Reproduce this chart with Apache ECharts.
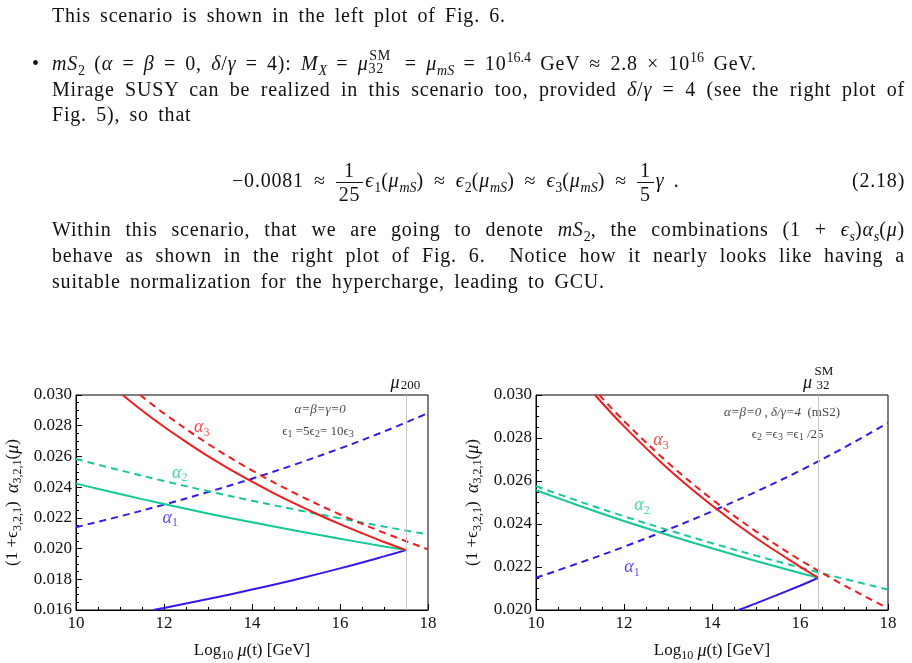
<!DOCTYPE html>
<html>
<head>
<meta charset="utf-8">
<script src="https://cdn.jsdelivr.net/npm/echarts@6/dist/echarts.min.js"></script>
<style>
body{margin:0;background:#fff;}
#page{position:relative;width:912px;height:663px;overflow:hidden;font-family:"Liberation Serif",serif;font-size:20px;color:#111;}
#main{position:absolute;left:0;top:0;width:912px;height:663px;}
.ln{position:absolute;left:52px;white-space:nowrap;line-height:26px;letter-spacing:.8px;word-spacing:3.5px;z-index:2;}
.j{width:853px;white-space:normal;text-align:justify;text-align-last:justify;}
sub,sup{font-size:.7em;line-height:0;letter-spacing:0;}
.r{margin:0 .5em;}
.ss{display:inline-block;position:relative;width:1.35em;height:1em;}
.ss .u{position:absolute;left:.05em;top:-.5em;font-size:.7em;}
.ss .d{position:absolute;left:0;top:.45em;font-size:.7em;}
.fr{display:inline-block;vertical-align:middle;text-align:center;line-height:1.15;margin-right:2px;}
.fr span{display:block;padding:0 3px;}
.fr span:first-child{border-bottom:1px solid #111;}
</style>
</head>
<body>
<div id="page">
<div id="main"></div>
<div class="ln" style="top:2px">This scenario is shown in the left plot of Fig. 6.</div>
<div class="ln" style="top:50px"><span style="position:absolute;left:-20px">•</span><i>mS</i><sub>2</sub> (<i>α</i> = <i>β</i> = 0, <i>δ</i>/<i>γ</i> = 4): <i>M<sub>X</sub></i> = <i>μ</i><span class="ss"><span class="u">SM</span><span class="d">32</span></span> = <i>μ<sub>mS</sub></i> = 10<sup>16.4</sup> GeV ≈ 2.8 × 10<sup>16</sup> GeV.</div>
<div class="ln j" style="top:76px">Mirage SUSY can be realized in this scenario too, provided <i>δ</i>/<i>γ</i> = 4 (see the right plot of</div>
<div class="ln" style="top:101px">Fig. 5), so that</div>
<div class="ln" style="left:232px;top:150px;line-height:60px">−0.0081<span class="r">≈</span><span class="fr"><span>1</span><span>25</span></span><i>ϵ</i><sub>1</sub>(<i>μ<sub>mS</sub></i>)<span class="r">≈</span><i>ϵ</i><sub>2</sub>(<i>μ<sub>mS</sub></i>)<span class="r">≈</span><i>ϵ</i><sub>3</sub>(<i>μ<sub>mS</sub></i>)<span class="r">≈</span><span class="fr"><span>1</span><span>5</span></span><i>γ</i>&nbsp;.</div>
<div class="ln" style="left:852px;top:167px">(2.18)</div>
<div class="ln j" style="top:216px">Within this scenario, that we are going to denote <i>mS</i><sub>2</sub>, the combinations (1 + <i>ϵ<sub>s</sub></i>)<i>α<sub>s</sub></i>(<i>μ</i>)</div>
<div class="ln j" style="top:242px">behave as shown in the right plot of Fig. 6.&nbsp; Notice how it nearly looks like having a</div>
<div class="ln" style="top:268px">suitable normalization for the hypercharge, leading to GCU.</div>
</div>
<script>
(function () {
    "use strict";
    var serif = '"Liberation Serif", "DejaVu Serif", serif';
    var RED = '#ee1c1c', GREEN = '#14c896', BLUE = '#3418e6';

    // left plot: alpha = beta = gamma = 0
    var L_red = [[11.06, 0.0300], [11.5, 0.02899], [12, 0.02793], [12.5, 0.02695], [13, 0.02602], [13.5, 0.02516], [14, 0.02436], [14.5, 0.0236], [15, 0.02289], [15.5, 0.02222], [16, 0.02159], [16.5, 0.021], [17, 0.02043], [17.5, 0.0199]];
    var L_redD = [[11.46, 0.0300], [12, 0.0288], [13, 0.02682], [14, 0.02509], [15, 0.02357], [16, 0.02222], [17, 0.02103], [18, 0.01995]];
    var L_green = [[10, 0.02423], [11, 0.02355], [12, 0.0229], [13, 0.02229], [14, 0.02171], [15, 0.02116], [16, 0.02064], [17, 0.02014], [17.5, 0.0199]];
    var L_greenD = [[10, 0.02583], [11, 0.0251], [12, 0.0244], [13, 0.02374], [14, 0.02312], [15, 0.02253], [16, 0.02197], [17, 0.02143], [18, 0.02092]];
    var L_blue = [[11.76, 0.0160], [12, 0.01613], [13, 0.01671], [14, 0.01733], [15, 0.01799], [16, 0.01871], [17, 0.01949], [17.5, 0.0199]];
    var L_blueD = [[10, 0.02139], [11, 0.0221], [12, 0.02286], [13, 0.02368], [14, 0.02455], [15, 0.0255], [16, 0.02652], [17, 0.02762], [18, 0.02882]];
    var L_mu = 17.5;

    // right plot: mS2
    var R_red = [[11.34, 0.0300], [12, 0.02854], [13, 0.02657], [14, 0.02486], [15, 0.02335], [16, 0.02202], [16.42, 0.0215]];
    var R_redD = [[11.44, 0.0300], [12, 0.02879], [13, 0.02685], [14, 0.02515], [15, 0.02366], [16, 0.02233], [17, 0.02115], [18, 0.02008]];
    var R_green = [[10, 0.02557], [11, 0.02484], [12, 0.02414], [13, 0.02349], [14, 0.02287], [15, 0.02228], [16, 0.02172], [16.42, 0.0215]];
    var R_greenD = [[10, 0.02576], [11, 0.02504], [12, 0.02436], [13, 0.02372], [14, 0.02311], [15, 0.02253], [16, 0.02198], [17, 0.02145], [18, 0.02095]];
    var R_blue = [[14.6, 0.0200], [15, 0.02031], [16, 0.02113], [16.42, 0.0215]];
    var R_blueD = [[10, 0.0215], [11, 0.0222], [12, 0.02294], [13, 0.02374], [14, 0.02459], [15, 0.0255], [16, 0.02648], [17, 0.02755], [18, 0.0287]];
    var R_mu = 16.42;

    // label positions in data coords
    var L_notes = [
        {value: [12.86, 0.02788], text: '{i|α}{s|3}', color: RED},
        {value: [12.36, 0.02493], text: '{i|α}{s|2}', color: GREEN},
        {value: [12.14, 0.02197], text: '{i|α}{s|1}', color: BLUE},
        {value: [15.55, 0.02904], text: '{si|α=β=γ=0}', color: '#111'},
        {value: [15.5, 0.02762], text: '{sn|ϵ}{ss|1}{sn| =5ϵ}{ss|2}{sn|= 10ϵ}{ss|3}', color: '#111'}
    ];
    var R_notes = [
        {value: [12.84, 0.02789], text: '{i|α}{s|3}', color: RED},
        {value: [12.41, 0.02486], text: '{i|α}{s|2}', color: GREEN},
        {value: [12.18, 0.02197], text: '{i|α}{s|1}', color: BLUE},
        {value: [15.59, 0.02917], text: '{si|α=β=0 , δ/γ=4}{sn|  (mS2)}', color: '#111'},
        {value: [15.72, 0.02817], text: '{sn|ϵ}{ss|2}{sn| =ϵ}{ss|3}{sn| =ϵ}{ss|1}{sn| /25}', color: '#111'}
    ];

    function rich(color) {
        return {
            n: {fontFamily: serif, fontSize: 17, color: color, lineHeight: 22},
            i: {fontFamily: serif, fontSize: 18, fontStyle: 'italic', color: color, lineHeight: 22},
            s: {fontFamily: serif, fontSize: 12, color: color, lineHeight: 11, verticalAlign: 'bottom'},
            si: {fontFamily: serif, fontSize: 13, fontStyle: 'italic', color: color, lineHeight: 16},
            sn: {fontFamily: serif, fontSize: 13, color: color, lineHeight: 16},
            ss: {fontFamily: serif, fontSize: 10, color: color, lineHeight: 9, verticalAlign: 'bottom'},
            sp: {width: 11, fontSize: 11, lineHeight: 5},
            up: {width: 20, fontFamily: serif, fontSize: 13, color: color, lineHeight: 5, align: 'left'},
            mu: {width: 9, fontFamily: serif, fontSize: 18, fontStyle: 'italic', color: color, lineHeight: 18},
            dn: {width: 22, fontFamily: serif, fontSize: 13, color: color, lineHeight: 12, verticalAlign: 'bottom', align: 'left'}
        };
    }

    var myChart = echarts.init(document.getElementById('main'));

    var grids = [
        {left: 76, top: 395, width: 352, height: 218, show: true, borderColor: '#000', borderWidth: 1, backgroundColor: 'transparent'},
        {left: 536, top: 395, width: 352, height: 218, show: true, borderColor: '#000', borderWidth: 1, backgroundColor: 'transparent'}
    ];

    function bottomAxis(gi) {
        return {
            type: 'value', gridIndex: gi, min: 10, max: 18, interval: 2,
            axisLine: {show: true, lineStyle: {color: '#000', width: 1}},
            axisTick: {show: true, inside: true, length: 6, lineStyle: {color: '#000'}},
            minorTick: {show: true, splitNumber: 4, length: 3, lineStyle: {color: '#000'}},
            splitLine: {show: false},
            axisLabel: {fontFamily: serif, fontSize: 17, color: '#111', margin: 5},
            name: '{n|Log}{s|10}{n| }{i|μ}{n|(t) [GeV]}',
            nameLocation: 'middle', nameGap: 30,
            nameTextStyle: {rich: rich('#111')}
        };
    }
    function topAxis(gi, mu, fmt) {
        return {
            type: 'value', gridIndex: gi, min: 10, max: 18, position: 'top',
            axisLine: {show: false},
            axisTick: {show: true, inside: true, length: 6, customValues: [mu], lineStyle: {color: '#000'}},
            splitLine: {show: false},
            axisLabel: {show: true, customValues: [mu], margin: 3, formatter: function () { return fmt; }, rich: rich('#111')}
        };
    }
    function leftAxis(gi, min) {
        return {
            type: 'value', gridIndex: gi, min: min, max: 0.030, interval: 0.002,
            axisLine: {show: true, lineStyle: {color: '#000', width: 1}},
            axisTick: {show: true, inside: true, length: 6, lineStyle: {color: '#000'}},
            minorTick: {show: true, splitNumber: 4, length: 3, lineStyle: {color: '#000'}},
            splitLine: {show: false},
            axisLabel: {fontFamily: serif, fontSize: 17, color: '#111', margin: 4,
                formatter: function (v) { return v.toFixed(3); }},
            name: '{n|(1 +ϵ}{s|3,2,1}{n|)  }{i|α}{s|3,2,1}{n|(}{i|μ}{n|)}',
            nameLocation: 'middle', nameGap: 52, nameRotate: 90,
            nameTextStyle: {rich: rich('#111')}
        };
    }

    function curve(data, color, dashed, gi) {
        return {
            type: 'line', xAxisIndex: gi * 2, yAxisIndex: gi, data: data,
            showSymbol: false, smooth: 0.35, clip: true, silent: true,
            lineStyle: {color: color, width: 2, type: dashed ? [7, 5] : 'solid'}
        };
    }
    function vline(mu, gi) {
        return {
            type: 'line', xAxisIndex: gi * 2, yAxisIndex: gi, data: [], silent: true,
            markLine: {symbol: 'none', silent: true, label: {show: false},
                lineStyle: {color: '#c8c8c8', width: 1, type: 'solid'},
                data: [{xAxis: mu}]}
        };
    }
    function notes(list, gi) {
        return {
            type: 'scatter', xAxisIndex: gi * 2, yAxisIndex: gi, symbolSize: 0, silent: true,
            data: list.map(function (d) {
                return {value: d.value, label: {show: true, position: 'inside', formatter: d.text, rich: rich(d.color)}};
            })
        };
    }

    myChart.setOption({
        animation: false,
        grid: grids,
        xAxis: [bottomAxis(0), topAxis(0, L_mu, '{mu|μ}{dn|200}'),
                bottomAxis(1), topAxis(1, R_mu, '{sp| }{up|SM}\n{mu|μ}{dn|32}')],
        yAxis: [leftAxis(0, 0.016), leftAxis(1, 0.020)],
        series: [
            vline(L_mu, 0),
            curve(L_blueD, BLUE, true, 0), curve(L_greenD, GREEN, true, 0), curve(L_redD, RED, true, 0),
            curve(L_blue, BLUE, false, 0), curve(L_green, GREEN, false, 0), curve(L_red, RED, false, 0),
            notes(L_notes, 0),
            vline(R_mu, 1),
            curve(R_blueD, BLUE, true, 1), curve(R_greenD, GREEN, true, 1), curve(R_redD, RED, true, 1),
            curve(R_blue, BLUE, false, 1), curve(R_green, GREEN, false, 1), curve(R_red, RED, false, 1),
            notes(R_notes, 1)
        ]
    });
})();
</script>
</body>
</html>
